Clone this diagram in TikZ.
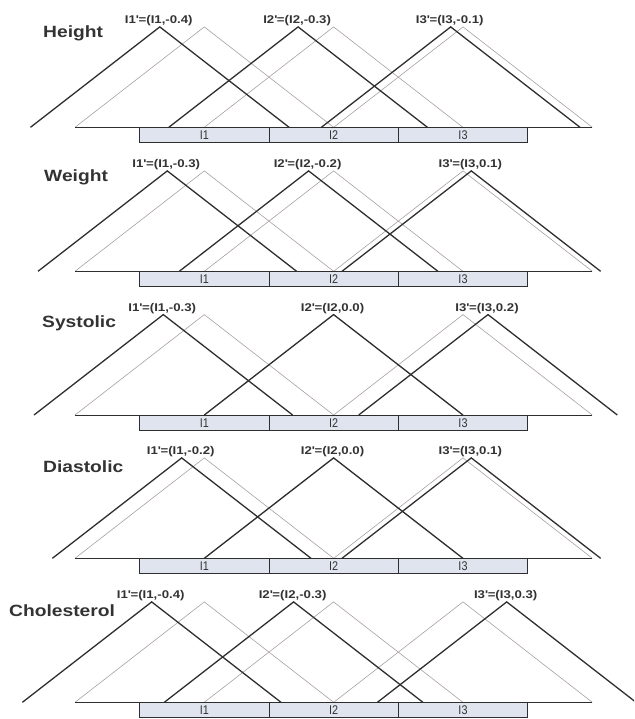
\documentclass[tikz,border=0pt]{standalone}
\usepackage{fontspec}
\setmainfont{Liberation Sans}
\newfontfamily\widefont[FakeStretch=1.18]{Liberation Sans}
\newfontfamily\narrowfont[FakeStretch=0.86]{Liberation Sans}
\usepackage{tikz}
\definecolor{mfdark}{HTML}{2E2E2E}
\definecolor{mflight}{HTML}{A9A09D}
\definecolor{cellfill}{HTML}{DFE4EF}
\definecolor{txtgray}{HTML}{333333}
\tikzset{
  mfgrey/.style={mflight, line width=0.6pt},
  mfblack/.style={mfdark, line width=1.3pt},
  axisline/.style={mfdark, line width=0.9pt},
  cellbox/.style={draw=mfdark, line width=1pt, fill=cellfill},
  peaklabel/.style={inner sep=0pt, anchor=base, text=txtgray, font=\widefont\bfseries\fontsize{11.2}{13}\selectfont},
  attrlabel/.style={inner sep=0pt, anchor=base west, text=txtgray, font=\widefont\bfseries\fontsize{16.3}{19}\selectfont},
  celllabel/.style={inner sep=0pt, text=txtgray, font=\narrowfont\fontsize{12.6}{14}\selectfont}
}

\begin{document}
\begin{tikzpicture}[x=1pt,y=-1pt]
\useasboundingbox (0,0) rectangle (634,719);
\clip (0,0) rectangle (634,719);
\foreach \n/\attr/\tx/\ty/\base/\sa/\sb/\sc/\va/\vb/\vc in {
  1/Height/43/37.8/127.3/-44.5/-35.5/-12.3/-0.4/-0.3/-0.1,
  2/Weight/44/181.8/271.3/-37/-25/8.3/-0.3/-0.2/0.1,
  3/Systolic/42/327.8/415/-41/0/25/-0.3/0.0/0.2,
  4/Diastolic/43/472.8/558.3/-22.6/0/8.3/-0.2/0.0/0.1,
  5/Cholesterol/9/616.8/702.3/-52.6/-40/43.7/-0.4/-0.3/0.3}
{
  % original interval triangles
  \foreach \cx in {204.3,333.6,463}
    \draw[mfgrey] (\cx-129.3,\base) -- (\cx,\base-100.4) -- (\cx+129.3,\base);
  % shifted triangles with their labels
  \foreach \cx/\sh/\val [count=\i] in {204.3/\sa/\va, 333.6/\sb/\vb, 463/\sc/\vc} {
    \coordinate (top\n\i) at (\cx+\sh,\base-100.4);
    \draw[mfblack] (\cx+\sh-129.3,\base) -- (top\n\i) -- (\cx+\sh+129.3,\base);
    \node[peaklabel] (lbl\n\i) at (\cx+\sh-1,\base-103.9) {I\i\textquotesingle=(I\i,\val)};
  }
  \node[attrlabel] (attr\n) at (\tx,\ty) {\attr};
  \draw[axisline] (75,\base) -- (592.3,\base);
  \foreach \x/\cx [count=\i] in {139.7/204.3, 269/333.6, 398.3/463} {
    \draw[cellbox] (\x,\base) rectangle (\x+129.3,\base+15);
    \node[celllabel] (cell\n\i) at (\cx,\base+7.8) {I\i};
  }
}
\end{tikzpicture}
\end{document}
